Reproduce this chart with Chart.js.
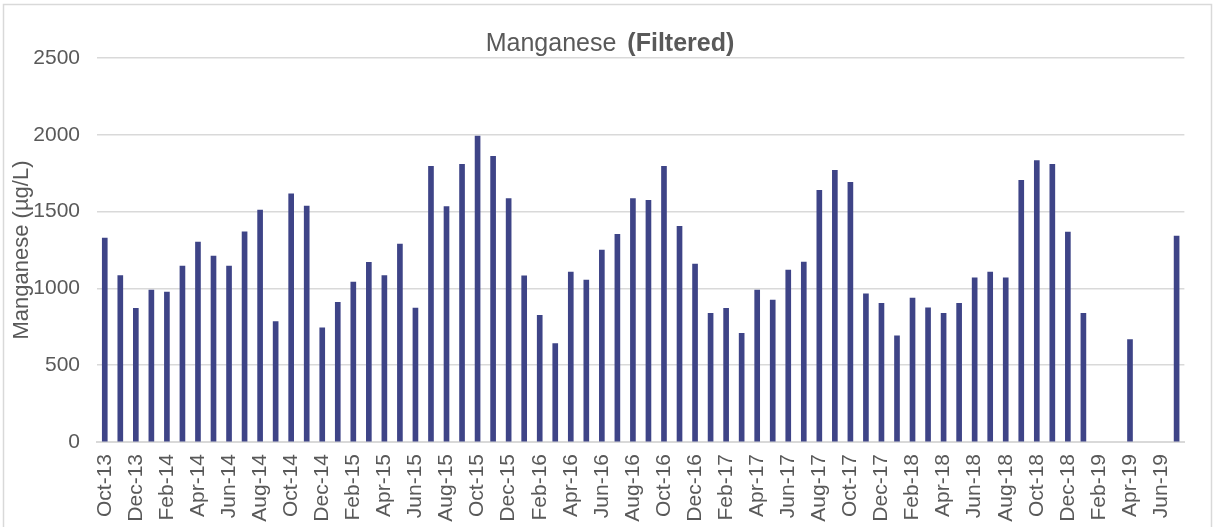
<!DOCTYPE html>
<html>
<head>
<meta charset="utf-8">
<script src="https://cdn.jsdelivr.net/npm/chart.js@4/dist/chart.umd.min.js"></script>
<style>
  html, body { margin: 0; padding: 0; background: #ffffff; }
  #wrap { width: 1214px; height: 527px; position: relative; }
</style>
</head>
<body>
<div id="wrap"><canvas id="c" width="1214" height="527"></canvas></div>
<script>
// ---- Data ----
const monthLabels = [
  'Oct-13','Nov-13','Dec-13',
  'Jan-14','Feb-14','Mar-14','Apr-14','May-14','Jun-14','Jul-14','Aug-14','Sep-14','Oct-14','Nov-14','Dec-14',
  'Jan-15','Feb-15','Mar-15','Apr-15','May-15','Jun-15','Jul-15','Aug-15','Sep-15','Oct-15','Nov-15','Dec-15',
  'Jan-16','Feb-16','Mar-16','Apr-16','May-16','Jun-16','Jul-16','Aug-16','Sep-16','Oct-16','Nov-16','Dec-16',
  'Jan-17','Feb-17','Mar-17','Apr-17','May-17','Jun-17','Jul-17','Aug-17','Sep-17','Oct-17','Nov-17','Dec-17',
  'Jan-18','Feb-18','Mar-18','Apr-18','May-18','Jun-18','Jul-18','Aug-18','Sep-18','Oct-18','Nov-18','Dec-18',
  'Jan-19','Feb-19','Mar-19','Apr-19','May-19','Jun-19','Jul-19'
];
const manganeseFiltered = [
  1328, 1083, 871,
  989, 976, 1146, 1302, 1210, 1146, 1368, 1510, 784, 1615, 1536, 743,
  910, 1041, 1170, 1083, 1288, 872, 1795, 1532, 1808, 1991, 1860, 1584,
  1082, 824, 641, 1106, 1054, 1250, 1352, 1584, 1574, 1795, 1404, 1158,
  837, 871, 707, 989, 924, 1119, 1171, 1639, 1769, 1691, 965, 902,
  691, 937, 873, 837, 902, 1069, 1106, 1069, 1704, 1832, 1808, 1367,
  837, null, null, 667, null, null, 1341
];
const yTickValues = [0, 500, 1000, 1500, 2000, 2500];
const titleNormal = 'Manganese';
const titleBold = '(Filtered)';
const yAxisTitle = 'Manganese (µg/L)';

// ---- Styles ----
const FONT = '"Liberation Sans", Arial, sans-serif';
const TEXT_COLOR = '#595959';
const GRID_COLOR = '#d9d9d9';
const BAR_COLOR = '#3e4487';

const frameAndTitle = {
  id: 'frameAndTitle',
  beforeDraw(chart) {
    const ctx = chart.ctx;
    ctx.save();
    ctx.fillStyle = '#ffffff';
    ctx.fillRect(0, 0, chart.width, chart.height);
    ctx.strokeStyle = GRID_COLOR;
    ctx.lineWidth = 1.5;
    ctx.strokeRect(3.5, 4.5, 1208, 560);
    ctx.restore();
  },
  afterDraw(chart) {
    const ctx = chart.ctx;
    ctx.save();
    ctx.fillStyle = TEXT_COLOR;
    ctx.textBaseline = 'alphabetic';
    ctx.textAlign = 'left';
    const fNormal = '25px ' + FONT;
    const fBold = 'bold 25px ' + FONT;
    ctx.font = fNormal;
    const w1 = ctx.measureText(titleNormal).width;
    ctx.font = fBold;
    const w2 = ctx.measureText(titleBold).width;
    const gap = 11;
    const total = w1 + gap + w2;
    const x0 = 610 - total / 2;
    ctx.font = fNormal;
    ctx.fillText(titleNormal, x0, 51);
    ctx.font = fBold;
    ctx.fillText(titleBold, x0 + w1 + gap, 51);
    ctx.restore();
  }
};

new Chart(document.getElementById('c'), {
  type: 'bar',
  data: {
    labels: monthLabels,
    datasets: [{
      label: 'Manganese (Filtered)',
      data: manganeseFiltered,
      backgroundColor: BAR_COLOR,
      borderWidth: 0,
      barThickness: 5
    }]
  },
  options: {
    responsive: false,
    devicePixelRatio: 1,
    animation: false,
    layout: { padding: { top: 58, right: 28, left: 0, bottom: 0 } },
    plugins: {
      legend: { display: false },
      title: { display: false },
      tooltip: { enabled: false }
    },
    scales: {
      x: {
        offset: true,
        grid: { display: false, drawTicks: false },
        border: { display: true, color: GRID_COLOR, width: 2 },
        ticks: {
          autoSkip: false,
          minRotation: 90,
          maxRotation: 90,
          padding: 12,
          color: TEXT_COLOR,
          font: { family: FONT, size: 21 },
          callback: function (val, idx) { return idx % 2 === 0 ? monthLabels[idx] : ''; }
        },
        afterFit(scale) { scale.height = 85; }
      },
      y: {
        min: 0,
        max: 2500,
        afterBuildTicks(scale) { scale.ticks = yTickValues.map(v => ({ value: v })); },
        grid: { color: GRID_COLOR, lineWidth: 1.5, drawTicks: false },
        border: { display: false },
        ticks: {
          padding: 17,
          color: TEXT_COLOR,
          font: { family: FONT, size: 21 },
          callback: function (v) { return String(v); }
        },
        title: {
          display: true,
          text: yAxisTitle,
          color: TEXT_COLOR,
          font: { family: FONT, size: 22 },
          padding: { top: 9, bottom: 0 }
        },
        afterFit(scale) { scale.width = 97; }
      }
    }
  },
  plugins: [frameAndTitle]
});
</script>
</body>
</html>
